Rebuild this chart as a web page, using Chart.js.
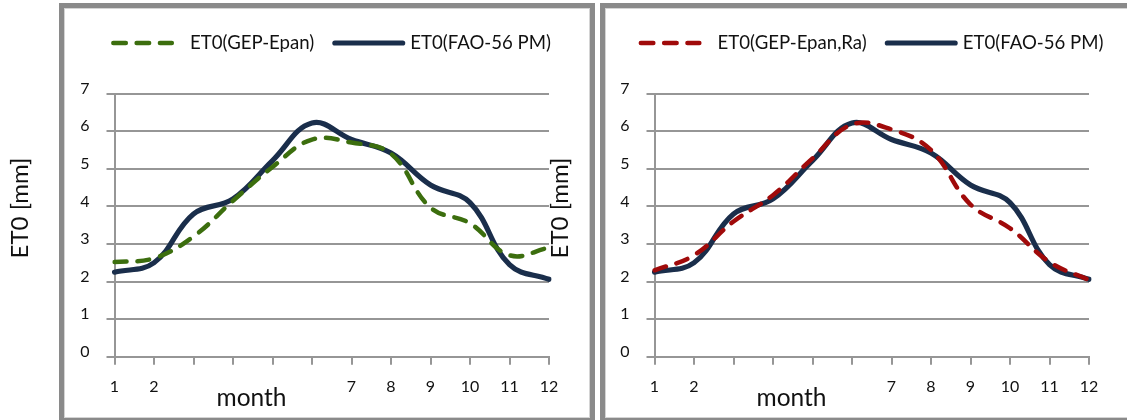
<!DOCTYPE html>
<html><head><meta charset="utf-8">
<script src="https://cdn.jsdelivr.net/npm/chart.js@4.4.1/dist/chart.umd.min.js"></script>
<style>
html,body{margin:0;padding:0;background:#fff;width:1127px;height:420px;overflow:hidden;position:relative}
.panel{position:absolute;box-sizing:border-box;border:5px solid #8a8a8a;border-bottom-width:2px;box-shadow:inset 0 0 0 1px #d4d4d4}
#p1{left:59px;top:3px;width:536px;height:417px}
#p2{left:600px;top:3px;width:560px;height:417px}
.cw{position:absolute;top:0;width:597px;height:420px}
#c1w{left:0}
#c2w{left:540px}
</style></head><body>
<div class="panel" id="p1"></div><div class="panel" id="p2"></div>
<div class="cw" id="c1w"><canvas id="c1"></canvas></div>
<div class="cw" id="c2w"><canvas id="c2"></canvas></div>
<script>
// ---- data ----
const months = ['1','2','3','4','5','6','7','8','9','10','11','12'];
const fao56pm   = [2.25, 2.50, 3.80, 4.20, 5.22, 6.22, 5.78, 5.42, 4.57, 4.10, 2.45, 2.06];
const gepEpan   = [2.52, 2.62, 3.20, 4.15, 5.05, 5.78, 5.70, 5.40, 3.97, 3.55, 2.70, 2.90];
const gepEpanRa = [2.30, 2.70, 3.60, 4.30, 5.28, 6.18, 6.05, 5.50, 4.05, 3.42, 2.52, 2.04];
const yMin = 0, yMax = 7, yStep = 1;
const labelFAO = 'ET0(FAO-56 PM)';
const labelGEP = 'ET0(GEP-Epan)';
const labelGEPRa = 'ET0(GEP-Epan,Ra)';
const xTitle = 'month';
const yTitle = 'ET0 [mm]';

const GRID = '#969696';
const TXT = '#111111';
const FONT = 'Lato';

const textPlugin = {
  id: 'textPlugin',
  afterDraw(chart) {
    const ctx = chart.ctx;
    const ca = chart.chartArea;
    const xs = chart.scales.x;
    ctx.save();
    // legend
    ctx.font = '18.6px ' + FONT;
    const ds = chart.data.datasets;
    const w1 = ctx.measureText(ds[0].label).width;
    const w2 = ctx.measureText(ds[1].label).width;
    const sym1 = 63, gap1 = 16, sep = 18, sym2 = 73, gap2 = 5;
    const total = sym1 + gap1 + w1 + sep + sym2 + gap2 + w2;
    let x = 331 - total / 2;
    const ly = 43;
    function sample(d, x0, len, dashed) {
      ctx.beginPath();
      ctx.strokeStyle = d.borderColor;
      ctx.lineWidth = d.borderWidth;
      ctx.lineCap = 'round';
      ctx.setLineDash(dashed ? [12.5, 10.8] : []);
      const c = d.borderWidth / 2;
      ctx.moveTo(x0 + c, ly);
      ctx.lineTo(x0 + len - c, ly);
      ctx.stroke();
      ctx.setLineDash([]);
    }
    sample(ds[0], x, sym1, true);
    ctx.fillStyle = TXT;
    ctx.textBaseline = 'middle';
    ctx.textAlign = 'left';
    ctx.fillText(ds[0].label, x + sym1 + gap1, ly);
    x += sym1 + gap1 + w1 + sep;
    sample(ds[1], x, sym2, false);
    ctx.fillStyle = TXT;
    ctx.fillText(ds[1].label, x + sym2 + gap2, ly);
    // x title with its white box (hides labels under it, as in the original)
    const bx0 = xs.getPixelForValue(2) - 13, bx1 = xs.getPixelForValue(5) + 13;
    ctx.fillStyle = '#ffffff';
    ctx.fillRect(bx0, 381, bx1 - bx0, 33);
    ctx.fillStyle = TXT;
    ctx.font = '24.5px ' + FONT;
    ctx.textAlign = 'center';
    ctx.fillText(xTitle, ca.left + 137, 398);
    // y title
    ctx.translate(20, 208);
    ctx.rotate(-Math.PI / 2);
    ctx.font = '24px ' + FONT;
    ctx.fillText(yTitle, 0, 0);
    ctx.restore();
  }
};

function makeChart(id, other, otherLabel, otherColor) {
  return new Chart(document.getElementById(id), {
    type: 'line',
    data: {
      labels: months,
      datasets: [
        { label: otherLabel, data: other, borderColor: otherColor, backgroundColor: otherColor,
          borderWidth: 4.5, borderDash: [12, 11], borderCapStyle: 'round', pointRadius: 0, tension: 0.4, fill: false },
        { label: labelFAO, data: fao56pm, borderColor: '#1a2e4b', backgroundColor: '#1a2e4b',
          borderWidth: 5.2, borderCapStyle: 'round', pointRadius: 0, tension: 0.4, fill: false }
      ]
    },
    options: {
      responsive: true, maintainAspectRatio: false, animation: false,
      layout: { padding: { left: 0, right: 48, top: 93.7, bottom: 0 } },
      plugins: { legend: { display: false }, tooltip: { enabled: false } },
      scales: {
        x: {
          type: 'category', offset: false,
          ticks: { padding: 12.5, maxRotation: 0, autoSkip: false, color: TXT, font: { family: FONT, size: 16 } },
          grid: { drawOnChartArea: false, drawTicks: true, tickLength: 8, color: GRID, lineWidth: 2 },
          border: { display: true, color: GRID, width: 2 },
          afterFit(s) { s.height = 63.3; }
        },
        y: {
          min: yMin, max: yMax,
          ticks: { stepSize: yStep, padding: 17, labelOffset: -5, color: TXT, font: { family: FONT, size: 16 } },
          grid: { color: GRID, lineWidth: 2, tickLength: 8, drawTicks: true },
          border: { display: true, color: GRID, width: 2 },
          afterFit(s) { s.width = 114.5; }
        }
      }
    },
    plugins: [textPlugin]
  });
}
makeChart('c1', gepEpan, labelGEP, '#3c6e0e');
makeChart('c2', gepEpanRa, labelGEPRa, '#a00a0a');
</script>
</body></html>
